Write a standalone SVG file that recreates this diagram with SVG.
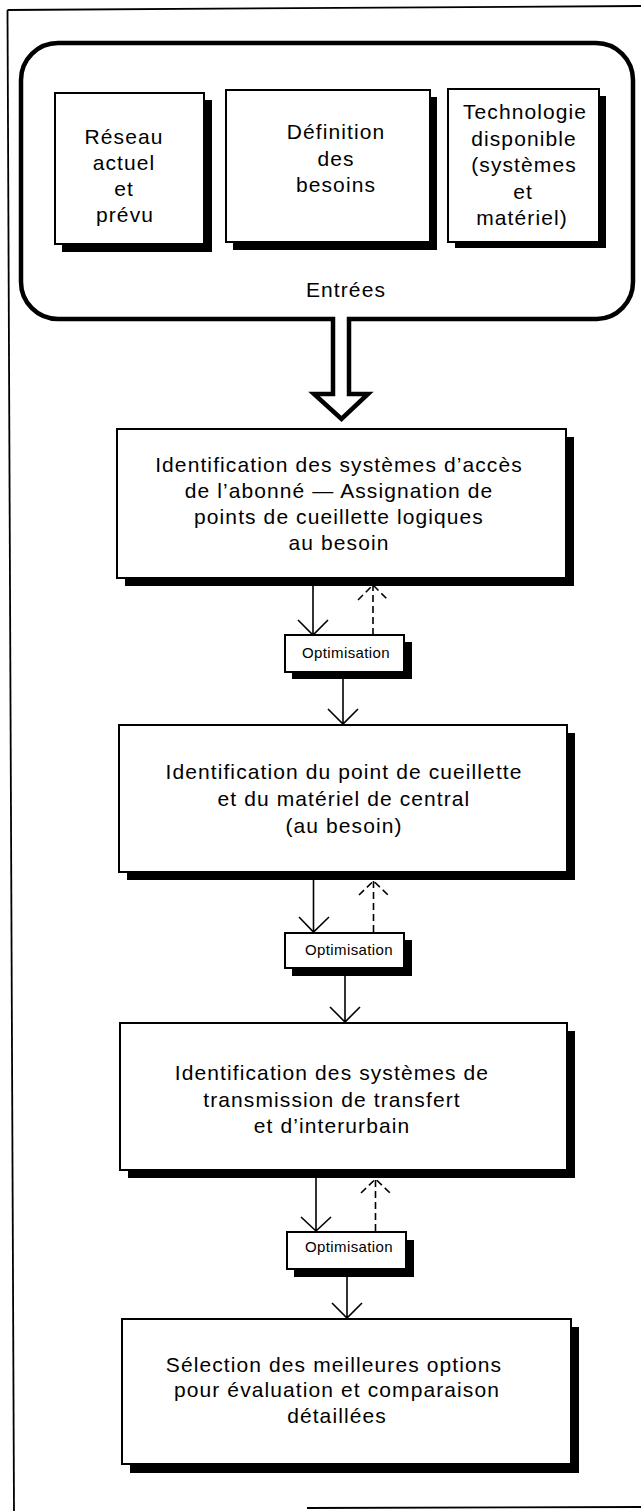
<svg xmlns="http://www.w3.org/2000/svg" width="641" height="1511" viewBox="0 0 641 1511">
  <style>
    .frame { fill: none; stroke: #000; stroke-width: 1.8; }
    .heavy { fill: #fff; stroke: #000; stroke-width: 4.5; stroke-linejoin: miter; }
    .box { fill: #fff; stroke: #000; stroke-width: 2; }
    .shadow { fill: #000; stroke: none; }
    .lbl { font-family: "Liberation Sans", Arial, Helvetica, sans-serif; font-size: 21px; letter-spacing: 1.1px; fill: #000; text-anchor: middle; }
    .small { font-family: "Liberation Sans", Arial, Helvetica, sans-serif; font-size: 15px; letter-spacing: 0.4px; fill: #000; text-anchor: middle; }
    .flow { fill: none; stroke: #000; stroke-width: 1.6; }
    .back { fill: none; stroke: #000; stroke-width: 1.6; stroke-dasharray: 7 4; }
  </style>

  <rect width="641" height="1511" fill="#fff"/>

  <!-- page frame -->
  <g id="frame">
    <line class="frame" x1="7.5" y1="10" x2="641" y2="6"/>
    <line class="frame" x1="7.5" y1="10" x2="14" y2="1511"/>
    <line class="frame" x1="307" y1="1508" x2="641" y2="1507"/>
  </g>

  <!-- inputs panel with the hollow arrow leaving its bottom edge -->
  <g id="entrees">
    <path class="heavy" d="M349,319 H597 A37,37 0 0 0 633,282 V80 A37,37 0 0 0 596,43 H58 A37,37 0 0 0 21,80 V282 A37,37 0 0 0 58,319 H333 V394 H314 L341.5,419 L368,394 H349 Z"/>
    <text class="lbl" x="346" y="297">Entrées</text>
  </g>

  <g id="reseau">
    <rect class="shadow" x="62" y="100" width="150" height="152"/>
    <rect class="box" x="55" y="93" width="149" height="151"/>
    <text class="lbl" x="124" y="144">Réseau</text>
    <text class="lbl" x="124" y="170">actuel</text>
    <text class="lbl" x="124" y="196">et</text>
    <text class="lbl" x="125" y="222">prévu</text>
  </g>

  <g id="besoins">
    <rect class="shadow" x="233" y="97" width="204" height="153"/>
    <rect class="box" x="226" y="90" width="204" height="152"/>
    <text class="lbl" x="336" y="139">Définition</text>
    <text class="lbl" x="336" y="166">des</text>
    <text class="lbl" x="336" y="192">besoins</text>
  </g>

  <g id="technologie">
    <rect class="shadow" x="455" y="96" width="151" height="152"/>
    <rect class="box" x="448" y="89" width="151" height="153"/>
    <text class="lbl" x="525" y="119">Technologie</text>
    <text class="lbl" x="524" y="146">disponible</text>
    <text class="lbl" x="524" y="172">(systèmes</text>
    <text class="lbl" x="523" y="199">et</text>
    <text class="lbl" x="522" y="225">matériel)</text>
  </g>

  <g id="acces">
    <rect class="shadow" x="125" y="437" width="449" height="149"/>
    <rect class="box" x="117" y="429" width="449" height="149"/>
    <text class="lbl" x="339" y="472">Identification des systèmes d’accès</text>
    <text class="lbl" x="339" y="498">de l’abonné — Assignation de</text>
    <text class="lbl" x="339" y="524">points de cueillette logiques</text>
    <text class="lbl" x="339" y="550">au besoin</text>
  </g>

  <g id="optim1">
    <rect class="shadow" x="292" y="642" width="120" height="37"/>
    <rect class="box" x="285" y="635" width="119" height="37"/>
    <text class="small" x="346" y="658">Optimisation</text>
  </g>

  <g id="central">
    <rect class="shadow" x="127" y="733" width="448" height="147"/>
    <rect class="box" x="119" y="725" width="448" height="147"/>
    <text class="lbl" x="344" y="779">Identification du point de cueillette</text>
    <text class="lbl" x="344" y="806">et du matériel de central</text>
    <text class="lbl" x="344" y="833">(au besoin)</text>
  </g>

  <g id="optim2">
    <rect class="shadow" x="292" y="940" width="120" height="36"/>
    <rect class="box" x="285" y="933" width="119" height="35"/>
    <text class="small" x="349" y="955">Optimisation</text>
  </g>

  <g id="transmission">
    <rect class="shadow" x="128" y="1031" width="447" height="147"/>
    <rect class="box" x="120" y="1023" width="447" height="147"/>
    <text class="lbl" x="332" y="1080">Identification des systèmes de</text>
    <text class="lbl" x="332" y="1107">transmission de transfert</text>
    <text class="lbl" x="332" y="1133">et d’interurbain</text>
  </g>

  <g id="optim3">
    <rect class="shadow" x="294" y="1240" width="120" height="37"/>
    <rect class="box" x="287" y="1232" width="119" height="37"/>
    <text class="small" x="349" y="1252">Optimisation</text>
  </g>

  <g id="selection">
    <rect class="shadow" x="130" y="1327" width="449" height="146"/>
    <rect class="box" x="122" y="1319" width="449" height="145"/>
    <text class="lbl" x="334" y="1372">Sélection des meilleures options</text>
    <text class="lbl" x="337" y="1397">pour évaluation et comparaison</text>
    <text class="lbl" x="337" y="1423">détaillées</text>
  </g>

  <!-- connectors: solid forward flow, dashed feedback -->
  <g id="connectors">
    <path class="flow" d="M313,586 V635 M298,620 L313,635 L328,620"/>
    <path class="back" d="M373,635 V585 M358,600 L373,585 L388,600"/>
    <path class="flow" d="M343,679 V724 M328,709 L343,724 L358,709"/>

    <path class="flow" d="M313.5,880 V932 M299,917 L313.5,932 L329,917"/>
    <path class="back" d="M373.5,932 V881 M359,895 L373.5,881 L388,895"/>
    <path class="flow" d="M345,976 V1022 M330,1007 L345,1022 L360,1007"/>

    <path class="flow" d="M316,1178 V1231 M301,1217 L316,1231 L331,1217"/>
    <path class="back" d="M375.5,1231 V1179 M361,1193 L375.5,1179 L390,1193"/>
    <path class="flow" d="M347,1277 V1318 M332,1303 L347,1318 L362,1303"/>
  </g>
</svg>
